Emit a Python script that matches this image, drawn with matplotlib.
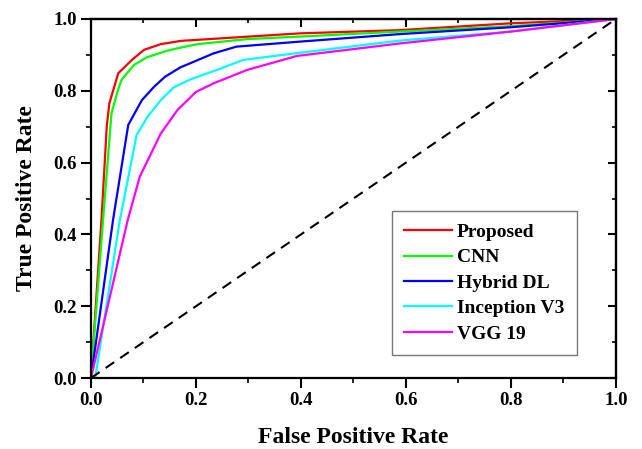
import numpy as np
import matplotlib
matplotlib.use("Agg")
from matplotlib import pyplot as plt
from matplotlib.ticker import MultipleLocator

plt.rcParams['font.family'] = ['Liberation Serif', 'DejaVu Serif']
plt.rcParams['font.weight'] = 'bold'

# ROC curves for each model
labels = ['Proposed', 'CNN', 'Hybrid DL', 'Inception V3', 'VGG 19']
colors = ['#ff0000', '#00ff00', '#0000ff', '#00ffff', '#ff00ff']

fpr_proposed = [0, 0.02, 0.03, 0.035, 0.052, 0.078, 0.101, 0.133, 0.171, 0.398, 0.589, 0.8, 1.0]
tpr_proposed = [0, 0.44, 0.70, 0.765, 0.849, 0.886, 0.914, 0.93, 0.939, 0.96, 0.969, 0.988, 1.0]

fpr_cnn = [0, 0.023, 0.039, 0.051, 0.058, 0.082, 0.106, 0.146, 0.17, 0.203, 0.298, 0.398, 0.589, 0.8, 1.0]
tpr_cnn = [0, 0.44, 0.737, 0.80, 0.83, 0.872, 0.893, 0.912, 0.92, 0.93, 0.944, 0.951, 0.965, 0.98, 1.0]

fpr_hybrid = [0, 0.042, 0.071, 0.097, 0.12, 0.141, 0.17, 0.196, 0.233, 0.277, 0.398, 0.589, 0.8, 1.0]
tpr_hybrid = [0, 0.44, 0.705, 0.774, 0.811, 0.839, 0.865, 0.881, 0.904, 0.923, 0.937, 0.958, 0.977, 1.0]

fpr_inception = [0.008, 0.055, 0.087, 0.108, 0.133, 0.158, 0.19, 0.247, 0.29, 0.398, 0.589, 0.8, 1.0]
tpr_inception = [0, 0.44, 0.677, 0.728, 0.774, 0.81, 0.832, 0.862, 0.886, 0.906, 0.94, 0.965, 1.0]

fpr_vgg = [0, 0.07, 0.093, 0.133, 0.165, 0.2, 0.234, 0.297, 0.392, 0.589, 0.8, 1.0]
tpr_vgg = [0, 0.44, 0.561, 0.681, 0.747, 0.797, 0.821, 0.858, 0.897, 0.932, 0.965, 1.0]

curves = [(fpr_proposed, tpr_proposed), (fpr_cnn, tpr_cnn), (fpr_hybrid, tpr_hybrid),
          (fpr_inception, tpr_inception), (fpr_vgg, tpr_vgg)]

fig = plt.figure(figsize=(6.42, 4.49), dpi=100)
ax = fig.add_axes([0.1417, 0.1581, 0.8178, 0.7996])

for (x, y), lab, c in zip(curves, labels, colors):
    ax.plot(x, y, color=c, lw=1.6, label=lab)

# chance line
ax.plot([0, 1], [0, 1], color='black', lw=1.5, linestyle=(0, (5, 3.5)))

ax.set_xlim(0, 1)
ax.set_ylim(0, 1)
for sp in ax.spines.values():
    sp.set_linewidth(1.6)

ax.xaxis.set_major_locator(MultipleLocator(0.2))
ax.xaxis.set_minor_locator(MultipleLocator(0.1))
ax.yaxis.set_major_locator(MultipleLocator(0.2))
ax.yaxis.set_minor_locator(MultipleLocator(0.1))
ax.xaxis.set_major_formatter(plt.FormatStrFormatter('%.1f'))
ax.yaxis.set_major_formatter(plt.FormatStrFormatter('%.1f'))
ax.tick_params(which='major', direction='out', length=7, width=1.5, labelsize=13.5, pad=3)
ax.tick_params(which='minor', direction='out', length=3.5, width=1.2)

# mirrored ticks pointing inward on top and right
top = ax.secondary_xaxis('top')
top.xaxis.set_major_locator(MultipleLocator(0.2))
top.xaxis.set_minor_locator(MultipleLocator(0.1))
top.tick_params(which='major', direction='in', length=6, width=1.5, labeltop=False)
top.tick_params(which='minor', direction='in', length=3, width=1.2)

right = ax.secondary_yaxis('right')
right.yaxis.set_major_locator(MultipleLocator(0.2))
right.yaxis.set_minor_locator(MultipleLocator(0.1))
right.tick_params(which='major', direction='in', length=6, width=1.5, labelright=False)
right.tick_params(which='minor', direction='in', length=3, width=1.2)

for sec in (top, right):
    for sp in sec.spines.values():
        sp.set_linewidth(1.6)

ax.set_xlabel('False Positive Rate', fontsize=17, fontweight='bold', labelpad=13)
ax.set_ylabel('True Positive Rate', fontsize=17, fontweight='bold', labelpad=12)

leg = ax.legend(loc='upper left', bbox_to_anchor=(0.573, 0.466), borderaxespad=0,
                prop={'size': 14, 'weight': 'bold'}, handlelength=2.45,
                labelspacing=0.4, fancybox=False, edgecolor='#777777', framealpha=1,
                borderpad=0.65, handletextpad=0.25)
leg.get_frame().set_linewidth(1.0)

fig.savefig('out.png', dpi=100)
